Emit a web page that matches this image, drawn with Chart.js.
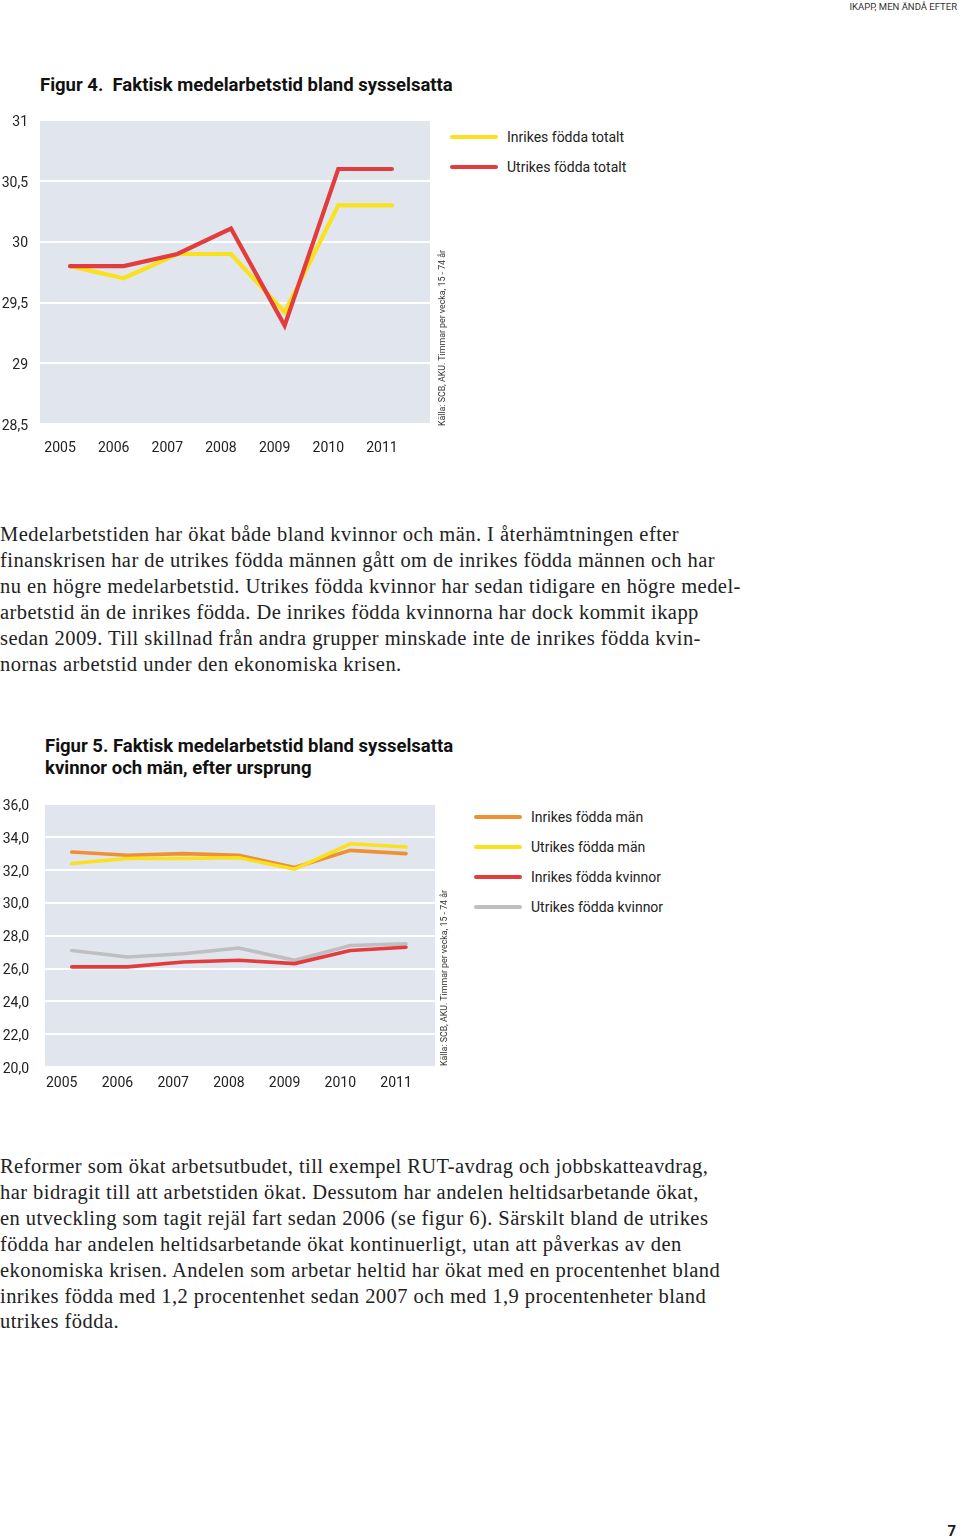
<!DOCTYPE html>
<html lang="sv">
<head>
<meta charset="utf-8">
<title>Faktisk medelarbetstid</title>
<script src="https://cdn.jsdelivr.net/npm/chart.js@4.4.1/dist/chart.umd.min.js"></script>
<style>
  body { margin: 0; width: 960px; height: 1539px; position: relative; background: #fff; overflow: hidden;
         font-family: Roboto, "Open Sans", sans-serif; color: #1b1b1b; }
  .abs { position: absolute; }
  .runhead { top: 1px; right: 3px; font-size: 9.5px; line-height: 12px; color: #333; }
  .figtitle { font-weight: bold; font-size: 18.5px; line-height: 22px; color: #111; }
  .prose { left: 0; font-family: "Liberation Serif", "DejaVu Serif", serif; font-size: 20.5px; letter-spacing: 0.45px;
           line-height: 25.9px; color: #222; white-space: nowrap; }
  .source { font-size: 8.8px; color: #333; white-space: nowrap; transform-origin: 0 0; transform: rotate(-90deg); }
  .legend { font-size: 14px; color: #222; }
  .legend div { position: relative; height: 30px; line-height: 30px; padding-left: 57px; white-space: nowrap; }
  .legend span { position: absolute; left: 0; top: 13px; width: 48px; height: 4px; border-radius: 2px; }
  .pageno { right: 4px; top: 1522px; font-weight: bold; font-size: 15px; }
</style>
</head>
<body>
<div class="abs runhead">IKAPP, MEN ÄNDÅ EFTER</div>

<div class="abs figtitle" style="left:40px; top:74px;">Figur 4.&nbsp; Faktisk medelarbetstid bland sysselsatta</div>
<div class="abs" style="left:0; top:100px; width:440px; height:360px;"><canvas id="fig4"></canvas></div>
<div class="abs legend" id="legend4" style="left:450px; top:122px;"></div>
<div class="abs source" style="left:437px; top:426px;">Källa: SCB, AKU. Timmar per vecka, 15 - 74 år</div>

<div class="abs prose" style="top:522px;">
Medelarbetstiden har ökat både bland kvinnor och män. I återhämtningen efter<br>
finanskrisen har de utrikes födda männen gått om de inrikes födda männen och har<br>
nu en högre medelarbetstid. Utrikes födda kvinnor har sedan tidigare en högre medel-<br>
arbetstid än de inrikes födda. De inrikes födda kvinnorna har dock kommit ikapp<br>
sedan 2009. Till skillnad från andra grupper minskade inte de inrikes födda kvin-<br>
nornas arbetstid under den ekonomiska krisen.
</div>

<div class="abs figtitle" style="left:45px; top:735px;">Figur 5. Faktisk medelarbetstid bland sysselsatta<br>kvinnor och män, efter ursprung</div>
<div class="abs" style="left:0; top:780px; width:445px; height:323px;"><canvas id="fig5"></canvas></div>
<div class="abs legend" id="legend5" style="left:474px; top:802px;"></div>
<div class="abs source" style="left:439px; top:1066px;">Källa: SCB, AKU. Timmar per vecka, 15 - 74 år</div>

<div class="abs prose" style="top:1154px;">
Reformer som ökat arbetsutbudet, till exempel RUT-avdrag och jobbskatteavdrag,<br>
har bidragit till att arbetstiden ökat. Dessutom har andelen heltidsarbetande ökat,<br>
en utveckling som tagit rejäl fart sedan 2006 (se figur 6). Särskilt bland de utrikes<br>
födda har andelen heltidsarbetande ökat kontinuerligt, utan att påverkas av den<br>
ekonomiska krisen. Andelen som arbetar heltid har ökat med en procentenhet bland<br>
inrikes födda med 1,2 procentenhet sedan 2007 och med 1,9 procentenheter bland<br>
utrikes födda.
</div>

<div class="abs pageno">7</div>

<script>
// years on the x axis (both figures)
const years = [2005, 2006, 2007, 2008, 2009, 2010, 2011];

// Figur 4 - timmar per vecka
const inrikesTotalt = [29.8, 29.7, 29.9, 29.9, 29.42, 30.3, 30.3];
const utrikesTotalt = [29.8, 29.8, 29.9, 30.11, 29.31, 30.6, 30.6];

// Figur 5 - timmar per vecka
const inrikesMan = [33.1, 32.9, 33.0, 32.9, 32.15, 33.2, 33.0];
const utrikesMan = [32.4, 32.7, 32.7, 32.75, 32.05, 33.6, 33.4];
const inrikesKvinnor = [26.1, 26.1, 26.4, 26.5, 26.3, 27.1, 27.3];
const utrikesKvinnor = [27.1, 26.7, 26.9, 27.25, 26.5, 27.4, 27.5];

const yellow = '#f9e11e';
const red = '#e23c3c';
const orange = '#ee9135';
const grey = '#bfbfc2';
const plotBg = '#e1e6ee';

const tickFont = { family: 'Roboto, "Open Sans", sans-serif', size: 14 };

const plotBackground = {
    id: 'plotBackground',
    beforeDraw(chart) {
        const { ctx, chartArea: a } = chart;
        ctx.save();
        ctx.fillStyle = plotBg;
        ctx.fillRect(a.left, a.top, a.right - a.left, a.bottom - a.top);
        ctx.restore();
    }
};

function points(values) {
    return values.map((v, i) => ({ x: years[i], y: v }));
}

function series(label, values, color, width, order) {
    return {
        label, data: points(values), borderColor: color, backgroundColor: color,
        borderWidth: width, pointRadius: 0, tension: 0, order,
        borderCapStyle: 'round', borderJoinStyle: 'miter'
    };
}

function buildLegend(el, sets) {
    el.innerHTML = sets.map(s => `<div><span style="background:${s.borderColor}"></span>${s.label}</div>`).join('');
}

function makeChart(id, sets, opt) {
    return new Chart(document.getElementById(id), {
        type: 'line',
        data: { datasets: sets },
        plugins: [plotBackground],
        options: {
            responsive: true,
            maintainAspectRatio: false,
            animation: false,
            layout: { padding: { top: opt.padTop, right: opt.padRight, left: 0, bottom: 0 } },
            plugins: { legend: { display: false }, tooltip: { enabled: false } },
            scales: {
                x: {
                    type: 'linear', min: opt.xMin, max: opt.xMax,
                    afterBuildTicks: s => { s.ticks = years.map(v => ({ value: v })); },
                    afterFit: s => { s.height = 36; },
                    grid: { display: false, drawTicks: false },
                    border: { display: false },
                    ticks: { callback: v => String(v), color: '#222', font: tickFont,
                             padding: opt.xPad, labelOffset: -10, maxRotation: 0, autoSkip: false }
                },
                y: {
                    min: opt.yMin, max: opt.yMax,
                    afterBuildTicks: s => {
                        const t = [];
                        for (let v = opt.yMin; v <= opt.yMax + 1e-9; v += opt.step) t.push({ value: +v.toFixed(2) });
                        s.ticks = t;
                    },
                    afterFit: s => { s.width = opt.yWidth; },
                    grid: { color: '#ffffff', lineWidth: 2, drawTicks: false },
                    border: { display: false },
                    ticks: { callback: opt.fmt, color: '#222', font: tickFont, padding: opt.yPad, labelOffset: 2 }
                }
            }
        }
    });
}

const sets4 = [
    series('Inrikes födda totalt', inrikesTotalt, yellow, 4.2, 2),
    series('Utrikes födda totalt', utrikesTotalt, red, 4.2, 1)
];
makeChart('fig4', sets4, {
    padTop: 20, padRight: 10, xMin: 2004.44, xMax: 2011.71, xPad: 16,
    yMin: 28.5, yMax: 31, step: 0.5, yWidth: 40, yPad: 12,
    fmt: v => String(v).replace('.', ',')
});
buildLegend(document.getElementById('legend4'), sets4);

const sets5 = [
    series('Inrikes födda män', inrikesMan, orange, 3.6, 3),
    series('Utrikes födda män', utrikesMan, yellow, 3.6, 2),
    series('Inrikes födda kvinnor', inrikesKvinnor, red, 3.6, 1),
    series('Utrikes födda kvinnor', utrikesKvinnor, grey, 3.6, 4)
];
makeChart('fig5', sets5, {
    padTop: 21, padRight: 10, xMin: 2004.52, xMax: 2011.52, xPad: 8,
    yMin: 20, yMax: 36, step: 2, yWidth: 45, yPad: 16,
    fmt: v => Number(v).toFixed(1).replace('.', ',')
});
buildLegend(document.getElementById('legend5'), sets5);
</script>
</body>
</html>
